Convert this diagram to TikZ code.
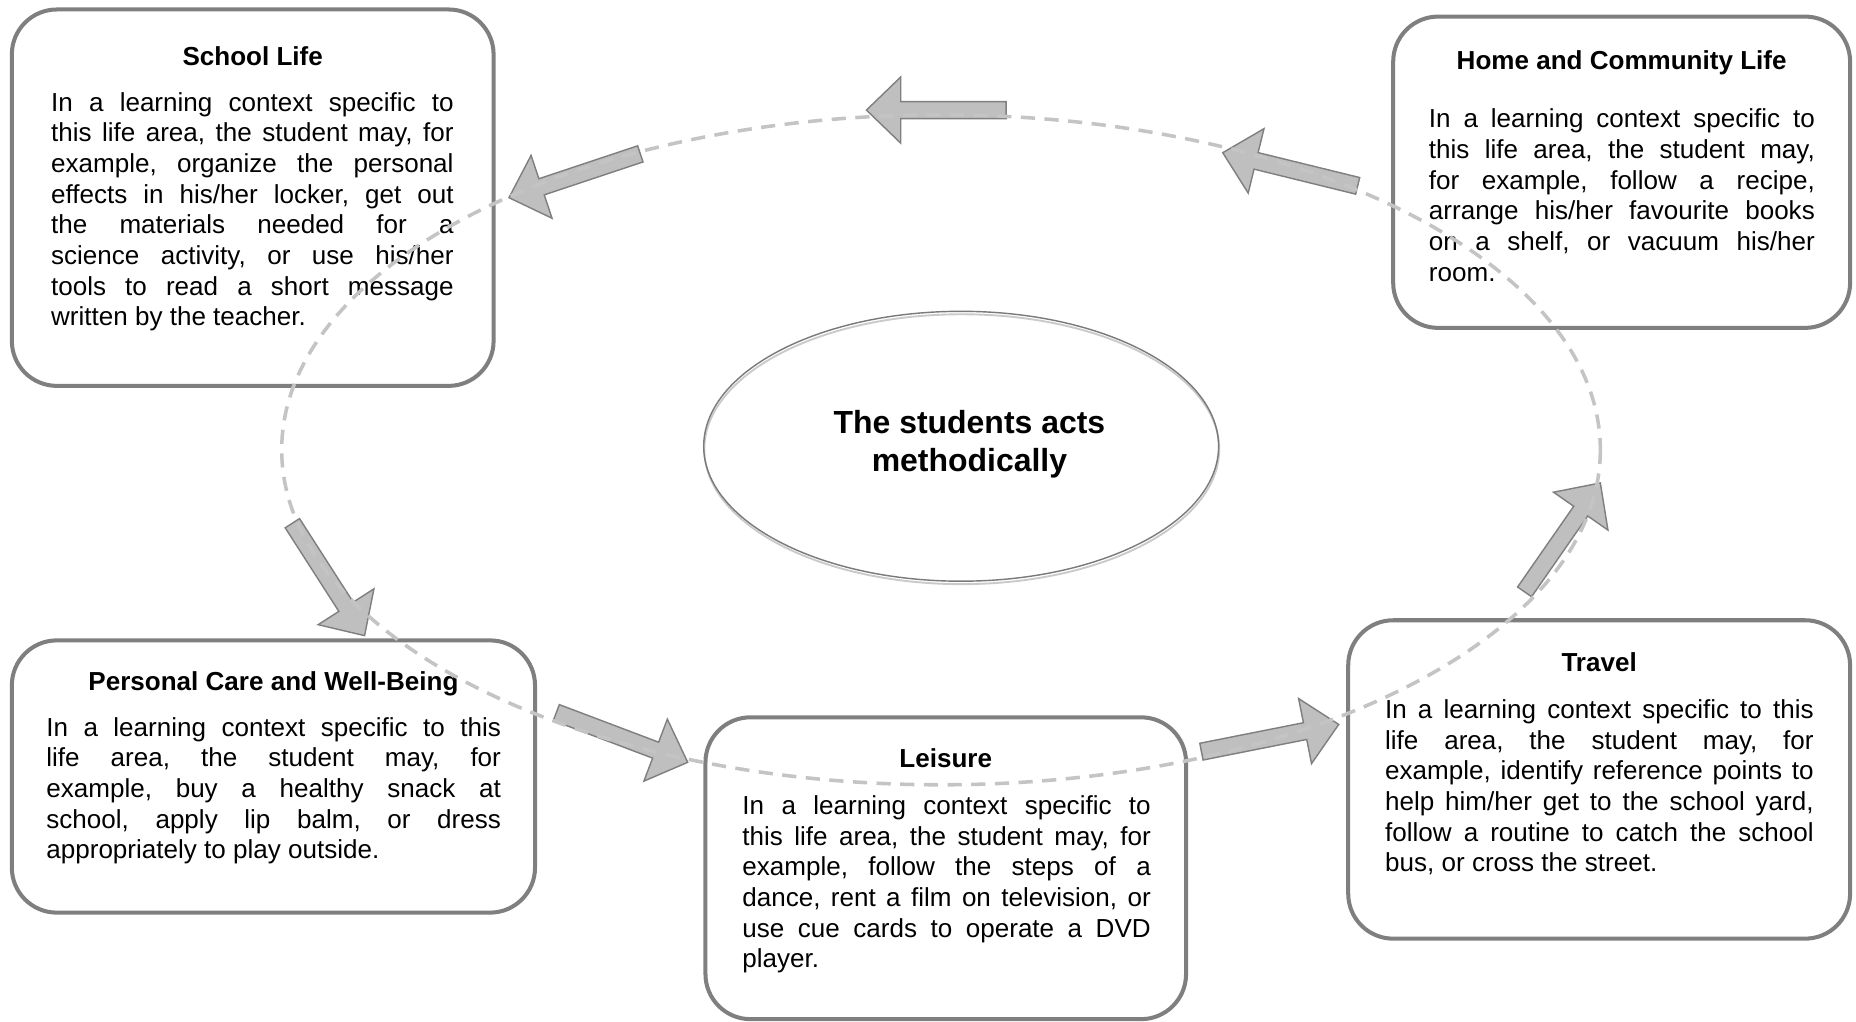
\documentclass[tikz,border=0pt]{standalone}
\usepackage{fontspec}
\setmainfont{Liberation Sans}
\usetikzlibrary{calc,shapes.geometric}

\definecolor{boxgray}{HTML}{7F7F7F}
\definecolor{arrowfill}{HTML}{BFBFBF}
\definecolor{arrowline}{HTML}{7F7F7F}
\definecolor{ringgray}{HTML}{C4C4C4}
\definecolor{ovalline}{HTML}{7A7A7A}
\definecolor{ovalshade}{HTML}{CACACA}

\newcommand\bodysize{\fontsize{22}{25.9}\selectfont}
\newcommand\bodysetup{\bodysize\frenchspacing\tolerance=10000\hbadness=10000
  \spaceskip=0.278em plus 3em minus 0.03em\relax}

\tikzset{
  lifebox/.style={draw=boxgray, line width=3.4pt, rounded corners=38pt, fill=white},
  boxtitle/.style={anchor=base, font=\bodysize\bfseries, inner sep=0pt},
  boxbody/.style={anchor=base west, align=justify, font=\bodysetup, inner sep=0pt},
  blockarr/.style={fill=arrowfill, draw=arrowline, line width=1.2pt, line join=miter},
  ring/.style={draw=ringgray, line width=3pt, dash pattern=on 12pt off 8pt},
}

% block arrow from tail coordinate #1 to tip coordinate #2
\newcommand\blockarrow[2]{%
  \coordinate (#1hb) at ($(#2)!29pt!(#1)$);
  \draw[blockarr] ($(#1)!7.2pt!90:(#2)$)
    -- ($(#1hb)!7.2pt!90:(#2)$)
    -- ($(#1hb)!28pt!90:(#2)$)
    -- (#2)
    -- ($(#1hb)!28pt!-90:(#2)$)
    -- ($(#1hb)!7.2pt!-90:(#2)$)
    -- ($(#1)!7.2pt!-90:(#2)$)
    -- cycle;}

\begin{document}
\begin{tikzpicture}[x=1pt,y=-1pt]
\useasboundingbox (0,0) rectangle (1568,863);

% the five life areas
\path[lifebox] (10,8) rectangle (417,326);
\path[lifebox] (1177,14) rectangle (1563,277);
\path[lifebox] (10,541) rectangle (452,771);
\path[lifebox] (596,606) rectangle (1002,861);
\path[lifebox] (1139,524) rectangle (1563,793);

\node[boxtitle] (schooltitle) at (213.5,55) {School Life};
\node[boxbody, text width=340pt] (schoolbody) at (43,94) {In a learning context specific to\linebreak
this life area, the student may, for\linebreak
example, organize the personal\linebreak
effects in his/her locker, get out\linebreak
the materials needed for a\linebreak
science activity, or use his/her\linebreak
tools to read a short message\linebreak
written by the teacher.};

\node[boxtitle] (hometitle) at (1370,59) {Home and Community Life};
\node[boxbody, text width=326pt] (homebody) at (1207,108) {In a learning context specific to\linebreak
this life area, the student may,\linebreak
for example, follow a recipe,\linebreak
arrange his/her favourite books\linebreak
on a shelf, or vacuum his/her\linebreak
room.};

\node[boxtitle] (caretitle) at (231,583) {Personal Care and Well-Being};
\node[boxbody, text width=384pt] (carebody) at (39,622) {In a learning context specific to this\linebreak
life area, the student may, for\linebreak
example, buy a healthy snack at\linebreak
school, apply lip balm, or dress\linebreak
appropriately to play outside.};

\node[boxtitle] (leisuretitle) at (799,648) {Leisure};
\node[boxbody, text width=345pt] (leisurebody) at (627,688) {In a learning context specific to\linebreak
this life area, the student may, for\linebreak
example, follow the steps of a\linebreak
dance, rent a film on television, or\linebreak
use cue cards to operate a DVD\linebreak
player.};

\node[boxtitle] (traveltitle) at (1351,567) {Travel};
\node[boxbody, text width=362pt] (travelbody) at (1170,607) {In a learning context specific to this\linebreak
life area, the student may, for\linebreak
example, identify reference points to\linebreak
help him/her get to the school yard,\linebreak
follow a routine to catch the school\linebreak
bus, or cross the street.};

% central oval
\draw[ovalshade, line width=1.6pt] (812.5,379.5) ellipse [x radius=217.5, y radius=114];
\node[draw=ovalline, line width=1.2pt, ellipse, minimum width=435pt, minimum height=228pt,
  inner sep=0pt] (core) at (812,377) {};
\node[align=center, font=\fontsize{27}{32}\selectfont\bfseries, inner sep=0pt]
  (coretext) at (819,375) {The students acts\\methodically};

% block arrows around the cycle
\coordinate (atop) at (850,93);      \coordinate (btop) at (732,93);
\coordinate (ahome) at (1147,157);   \coordinate (bhome) at (1033,129);
\coordinate (aschool) at (541,130);  \coordinate (bschool) at (430,167);
\coordinate (adown) at (247,442);    \coordinate (bdown) at (308,537);
\coordinate (acare) at (470,602);    \coordinate (bcare) at (581,644);
\coordinate (aleis) at (1015,635);   \coordinate (bleis) at (1131,612);
\coordinate (atrav) at (1288,500);   \coordinate (btrav) at (1352,408);
\blockarrow{atop}{btop}
\blockarrow{ahome}{bhome}
\blockarrow{aschool}{bschool}
\blockarrow{adown}{bdown}
\blockarrow{acare}{bcare}
\blockarrow{aleis}{bleis}
\blockarrow{atrav}{btrav}

% dashed cycle path
\draw[ring] (795,380) ellipse [x radius=557, y radius=283];
\end{tikzpicture}
\end{document}
